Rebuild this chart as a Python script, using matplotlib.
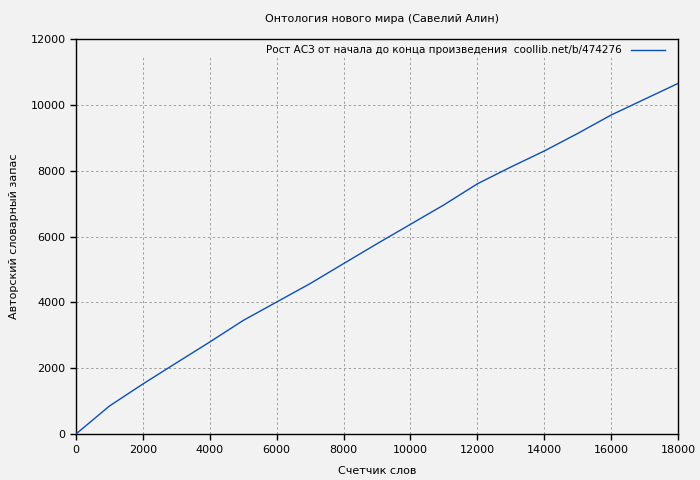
import matplotlib
matplotlib.use("Agg")
import matplotlib.pyplot as plt

# word counter vs author's vocabulary
words = [0, 1000, 2000, 3000, 4000, 5000, 6000, 7000, 8000, 9000,
         10000, 11000, 12000, 13000, 14000, 15000, 16000, 17000, 18000]
vocab = [0, 850, 1519, 2160, 2795, 3450, 4010, 4569, 5176, 5780,
         6370, 6960, 7600, 8110, 8597, 9130, 9690, 10170, 10650]

xticks = list(range(0, 18001, 2000))
yticks = list(range(0, 12001, 2000))

title = "Онтология нового мира (Савелий Алин)"
legend_label = "Рост АСЗ от начала до конца произведения  coollib.net/b/474276"
xlabel = "Счетчик слов"
ylabel = "Авторский словарный запас"

bg = "#f2f2f2"
plt.rcParams['font.family'] = ['DejaVu Sans']

fig = plt.figure(figsize=(7, 4.8), dpi=100, facecolor=bg)
ax = fig.add_axes([76/700, 46/480, 602/700, 395/480], facecolor=bg)

# grid (kept clear of the legend strip at the top)
for x in xticks[1:-1]:
    ax.axvline(x, ymax=0.954, color="#a0a0a0", lw=0.7, ls=(0, (2.5, 2.5)), zorder=1)
for y in yticks[1:-1]:
    ax.axhline(y, color="#a0a0a0", lw=0.7, ls=(0, (2.5, 2.5)), zorder=1)

ax.plot(words, vocab, color="#0b4fb5", lw=1.0, label=legend_label, zorder=3)

ax.set_xlim(0, 18000)
ax.set_ylim(0, 12000)
ax.set_xticks(xticks)
ax.set_yticks(yticks)
ax.tick_params(direction="out", length=4, width=1, labelsize=8, colors="black")
ax.tick_params(axis="x", pad=4)
for s in ax.spines.values():
    s.set_linewidth(1.0)

fig.text(382/700, 1 - 19/480, title, ha="center", va="center", fontsize=8)
ax.set_xlabel(xlabel, fontsize=8, labelpad=8)
ax.set_ylabel(ylabel, fontsize=8, labelpad=8)

leg = ax.legend(loc="upper right", bbox_to_anchor=(1 - 7/602, 1.0), frameon=False,
                fontsize=7.5, handlelength=3.2, markerfirst=False,
                borderaxespad=0.2, handletextpad=0.9)

fig.savefig("out.png", dpi=100, facecolor=bg)
